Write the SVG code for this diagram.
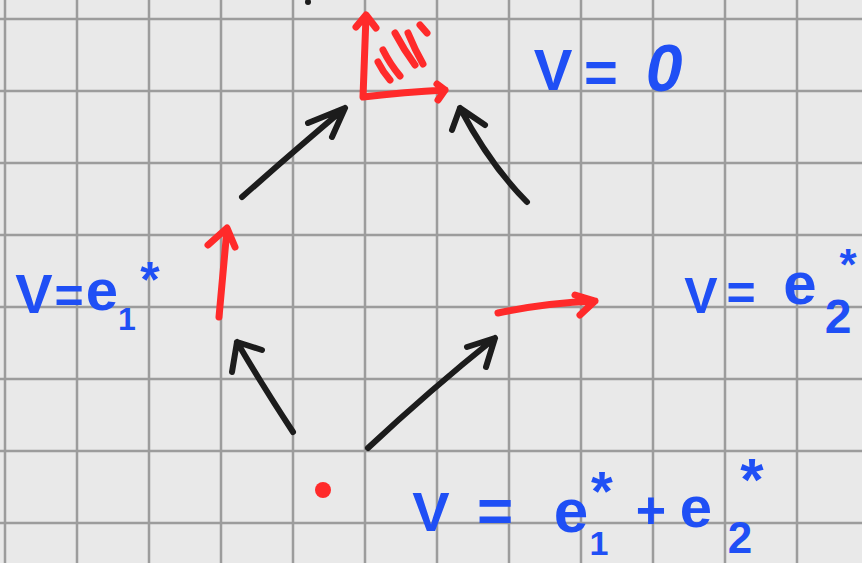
<svg xmlns="http://www.w3.org/2000/svg" width="862" height="563" viewBox="0 0 862 563">
<style>
.grid line{stroke:#9c9c9c;stroke-width:2.5}
.blk{fill:none;stroke:#1c1c1c;stroke-width:6;stroke-linecap:round;stroke-linejoin:round}
.red{fill:none;stroke:#ff2a2a;stroke-width:7;stroke-linecap:round;stroke-linejoin:round}
.lbl{fill:#1f4ff5;font-family:"Liberation Sans",Arial,sans-serif;font-weight:bold;text-anchor:middle}
</style>
<rect width="862" height="563" fill="#e9e9e9"/>
<g class="grid">
<line x1="5" y1="0" x2="5" y2="563"/><line x1="77" y1="0" x2="77" y2="563"/><line x1="149" y1="0" x2="149" y2="563"/><line x1="221" y1="0" x2="221" y2="563"/><line x1="293" y1="0" x2="293" y2="563"/><line x1="365" y1="0" x2="365" y2="563"/><line x1="437" y1="0" x2="437" y2="563"/><line x1="509" y1="0" x2="509" y2="563"/><line x1="581" y1="0" x2="581" y2="563"/><line x1="653" y1="0" x2="653" y2="563"/><line x1="725" y1="0" x2="725" y2="563"/><line x1="797" y1="0" x2="797" y2="563"/>
<line x1="0" y1="19" x2="862" y2="19"/><line x1="0" y1="91" x2="862" y2="91"/><line x1="0" y1="163" x2="862" y2="163"/><line x1="0" y1="235" x2="862" y2="235"/><line x1="0" y1="307" x2="862" y2="307"/><line x1="0" y1="379" x2="862" y2="379"/><line x1="0" y1="451" x2="862" y2="451"/><line x1="0" y1="523" x2="862" y2="523"/>
</g>
<circle cx="308" cy="2" r="3" fill="#1c1c1c"/>
<g id="node-zero">
<path class="red" d="M363 97 L366 16 M356 27 L366 15 L376 28 M363 97 Q405 92 445 90 M437 84 L445 90 L438 100"/>
<path class="red" d="M378 62 Q383 72 390 80 M383 50 Q390 64 400 76 M395 33 Q404 50 415 65 M408 33 Q415 50 423 64 M420 25 L427 33"/>
<g class="lbl"><text x="553" y="90" font-size="58">V</text><text x="601" y="92" font-size="58">=</text><text x="664" y="91" font-size="66" font-style="italic">0</text></g>
</g>
<g id="node-e1">
<path class="red" d="M219 317 L227 229 M208 245 L227 228 L235 247"/>
<g class="lbl"><text x="34" y="313" font-size="56">V</text><text x="69" y="313" font-size="50">=</text><text x="102" y="310" font-size="58">e</text><text x="127" y="330" font-size="32">1</text><text x="150" y="297" font-size="50">*</text></g>
</g>
<g id="node-e2">
<path class="red" d="M498 313 Q545 303 595 301 M575 295 L595 301 L580 315"/>
<g class="lbl"><text x="701" y="313" font-size="50">V</text><text x="741" y="310" font-size="50">=</text><text x="800" y="304" font-size="60">e</text><text x="838" y="333" font-size="48">2</text><text x="848" y="280" font-size="44">*</text></g>
</g>
<g id="node-sum">
<circle cx="323" cy="490" r="8" fill="#ff2a2a"/>
<g class="lbl"><text x="431" y="531" font-size="56">V</text><text x="495" y="532" font-size="62">=</text><text x="571" y="532" font-size="62">e</text><text x="599" y="555" font-size="34">1</text><text x="602" y="510" font-size="56">*</text><text x="651" y="528" font-size="52">+</text><text x="696" y="527" font-size="58">e</text><text x="740" y="553" font-size="44">2</text><text x="752" y="500" font-size="60">*</text></g>
</g>
<g id="connectors">
<path class="blk" d="M293 432 Q262 385 237 342 M232 372 L237 342 L262 350"/>
<path class="blk" d="M368 448 Q430 390 495 338 M467 347 L495 338 L486 367"/>
<path class="blk" d="M242 197 Q295 150 345 108 M308 123 L345 108 L332 137"/>
<path class="blk" d="M527 202 Q490 165 460 108 M452 130 L460 108 L485 125"/>
</g>
</svg>
